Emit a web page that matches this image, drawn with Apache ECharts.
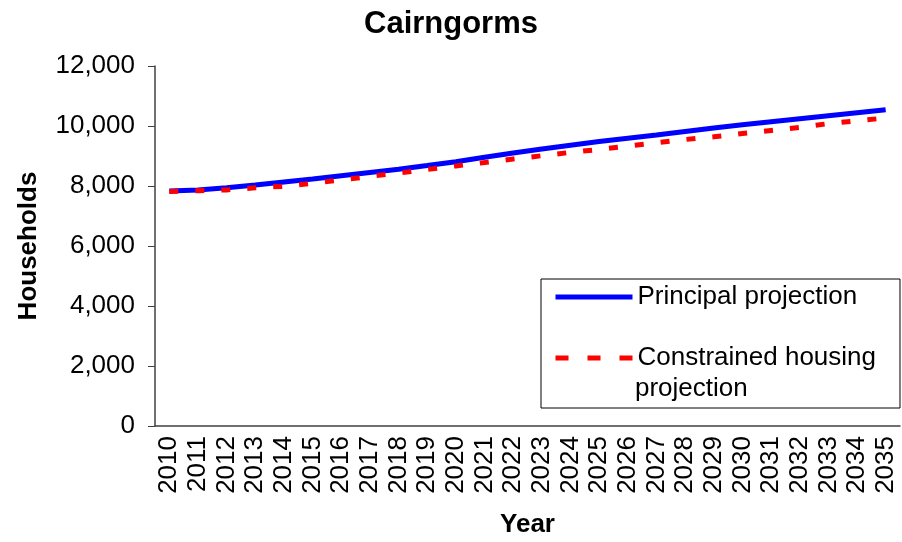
<!DOCTYPE html>
<html>
<head>
<meta charset="utf-8">
<script src="https://cdn.jsdelivr.net/npm/echarts@6/dist/echarts.min.js"></script>
<style>
  html, body { margin: 0; padding: 0; background: #fff; }
  #chart { width: 902px; height: 542px; }
</style>
</head>
<body>
<div id="chart"></div>
<script>
const years = ['2010', '2011', '2012', '2013', '2014', '2015', '2016', '2017', '2018',
  '2019', '2020', '2021', '2022', '2023', '2024', '2025', '2026', '2027', '2028',
  '2029', '2030', '2031', '2032', '2033', '2034', '2035']

// principal projection (households)
const principal = [7830, 7870, 7940, 8030, 8130, 8230, 8340, 8450, 8560, 8680, 8810, 8960,
  9100, 9230, 9360, 9480, 9590, 9700, 9820, 9930, 10040, 10140, 10240, 10340, 10440, 10540]

// constrained housing projection (households)
const constrained = [7820, 7840, 7870, 7940, 7990, 8090, 8200, 8320, 8430, 8550, 8670, 8780,
  8900, 9010, 9120, 9220, 9330, 9440, 9550, 9640, 9750, 9850, 9950, 10080, 10170, 10270]

const yTicks = { min: 0, max: 12000, step: 2000 }

const font = 'Arial, "Liberation Sans", sans-serif'
const axisColor = '#404040'

const chart = echarts.init(document.getElementById('chart'))

chart.setOption({
  animation: false,
  title: {
    text: 'Cairngorms',
    left: 'center',
    top: 4,
    textStyle: { fontFamily: font, fontSize: 31, fontWeight: 'bold', color: '#000' }
  },
  grid: { left: 155, right: 2, top: 66, bottom: 116, outerBoundsMode: 'none' },
  legend: {
    left: 541,
    top: 279,
    orient: 'vertical',
    padding: [4, 24, 36, 12],
    itemGap: 33,
    itemWidth: 77,
    itemHeight: 14,
    borderColor: '#000',
    borderWidth: 1,
    itemStyle: { opacity: 0 },
    lineStyle: { width: 5 },
    textStyle: { fontFamily: font, fontSize: 26, color: '#000', lineHeight: 28 },
    data: [
      { name: 'Principal projection' },
      { name: 'Constrained housing', lineStyle: { width: 5, type: [13, 19] } }
    ]
  },
  graphic: [{
    type: 'text',
    left: 635,
    top: 376,
    style: { text: 'projection', font: '26px ' + font, fill: '#000' }
  }],
  xAxis: {
    type: 'category',
    data: years,
    boundaryGap: true,
    name: 'Year',
    nameLocation: 'middle',
    nameGap: 86,
    nameTextStyle: { fontFamily: font, fontSize: 26, fontWeight: 'bold', color: '#000' },
    axisLine: { lineStyle: { color: axisColor, width: 1.5 } },
    axisTick: { interval: 0, length: 7, lineStyle: { color: axisColor } },
    axisLabel: {
      interval: 0,
      rotate: 90,
      margin: 10,
      fontFamily: font,
      fontSize: 26,
      color: '#000'
    }
  },
  yAxis: {
    type: 'value',
    min: yTicks.min,
    max: yTicks.max,
    interval: yTicks.step,
    name: 'Households',
    nameLocation: 'middle',
    nameRotate: 90,
    nameGap: 113,
    nameTextStyle: { fontFamily: font, fontSize: 26, fontWeight: 'bold', color: '#000' },
    axisLine: { show: true, lineStyle: { color: axisColor, width: 1.5 } },
    axisTick: { show: true, length: 7, lineStyle: { color: axisColor } },
    splitLine: { show: false },
    axisLabel: {
      margin: 20,
      fontFamily: font,
      fontSize: 26,
      color: '#000',
      formatter: v => v.toLocaleString('en-US')
    }
  },
  series: [
    {
      name: 'Principal projection',
      type: 'line',
      data: principal,
      symbol: 'none',
      itemStyle: { color: '#0000ff' },
      lineStyle: { color: '#0000ff', width: 5 }
    },
    {
      name: 'Constrained housing',
      type: 'line',
      data: constrained,
      symbol: 'none',
      itemStyle: { color: '#ff0000' },
      lineStyle: { color: '#ff0000', width: 5, type: [9, 17] }
    }
  ]
})
</script>
</body>
</html>
